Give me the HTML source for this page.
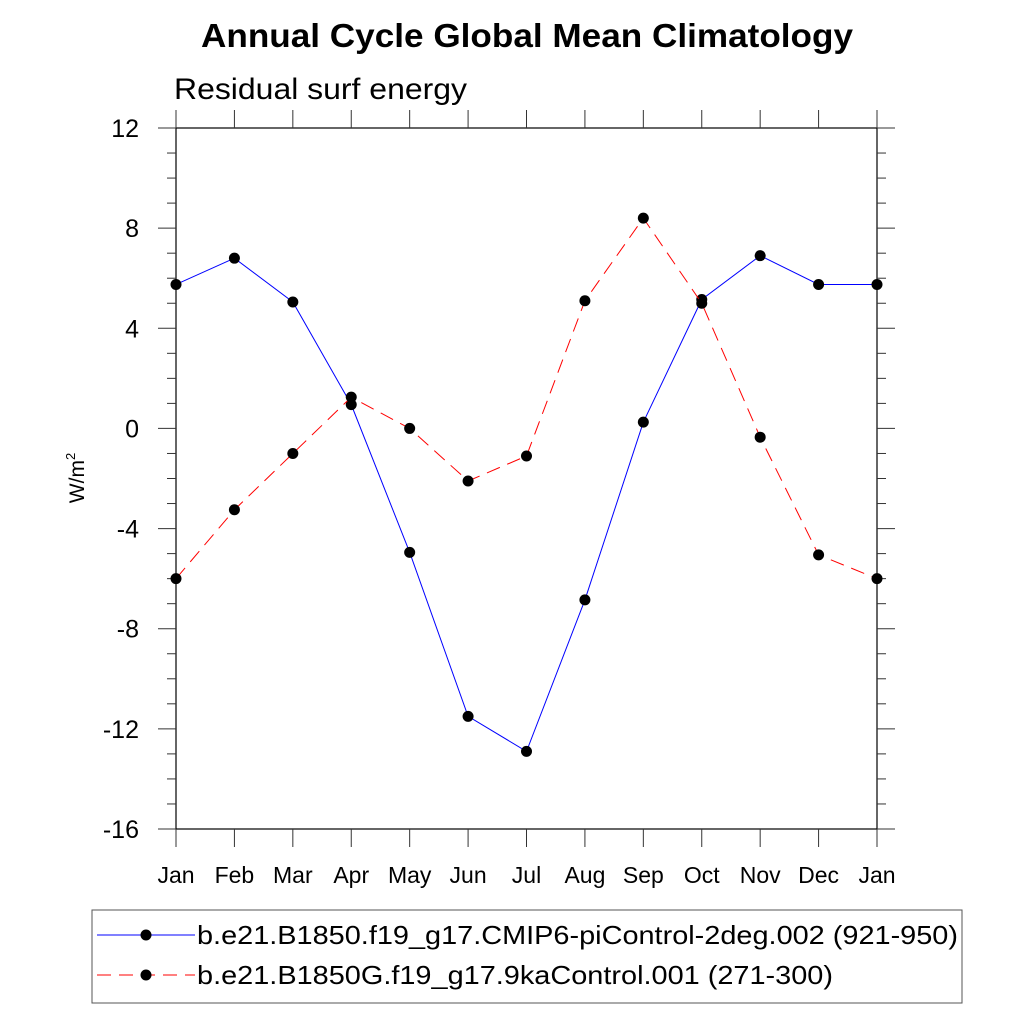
<!DOCTYPE html>
<html><head><meta charset="utf-8"><style>
body{margin:0;background:#fff}
svg text{font-family:"Liberation Sans",sans-serif}
</style></head><body>
<svg id="chart" width="1024" height="1024" xmlns="http://www.w3.org/2000/svg">
<text x="201" y="47" font-size="33" font-weight="bold" textLength="652" lengthAdjust="spacingAndGlyphs">Annual Cycle Global Mean Climatology</text>
<text x="174" y="99" font-size="30" textLength="293" lengthAdjust="spacingAndGlyphs">Residual surf energy</text>
<text transform="translate(84,478) rotate(-90)" text-anchor="middle" font-size="21">W/m<tspan dy="-9" font-size="13">2</tspan></text>
<g id="axes"></g>
<g id="series"></g>
<g>
<rect x="92" y="910" width="870" height="93" fill="none" stroke="#555" stroke-width="1"/>
<line x1="97" y1="935" x2="195" y2="935" stroke="#0000ff" stroke-width="1"/>
<circle cx="146" cy="935" r="5.5" fill="#000"/>
<text x="197" y="944" font-size="26" textLength="761" lengthAdjust="spacingAndGlyphs">b.e21.B1850.f19_g17.CMIP6-piControl-2deg.002 (921-950)</text>
<line x1="97" y1="975" x2="195" y2="975" stroke="#ff0000" stroke-width="1" stroke-dasharray="14,8"/>
<circle cx="146" cy="975" r="5.5" fill="#000"/>
<text x="197" y="984" font-size="26" textLength="636" lengthAdjust="spacingAndGlyphs">b.e21.B1850G.f19_g17.9kaControl.001 (271-300)</text>
</g>
</svg>
<script>
const months=["Jan","Feb","Mar","Apr","May","Jun","Jul","Aug","Sep","Oct","Nov","Dec","Jan"];
const controlValues=[5.75,6.8,5.05,0.95,-4.95,-11.5,-12.9,-6.85,0.25,5.15,6.9,5.75,5.75];
const kaValues=[-6.0,-3.25,-1.0,1.25,0.0,-2.1,-1.1,5.1,8.4,5.0,-0.35,-5.05,-6.0];
const yTicks=[12,8,4,0,-4,-8,-12,-16];
const L=176,R=877,T=128,B=829,yMin=-16,yMax=12;
const xs=i=>L+(R-L)*i/(months.length-1);
const ys=v=>B-(v-yMin)/(yMax-yMin)*(B-T);
const NS="http://www.w3.org/2000/svg";
function mk(tag,attrs,parent){const e=document.createElementNS(NS,tag);for(const k in attrs)e.setAttribute(k,attrs[k]);parent.appendChild(e);return e;}
const ax=document.getElementById('axes');
let fr=mk('rect',{x:L,y:T,width:R-L,height:B-T,fill:'none',stroke:'#000','stroke-width':1.2},ax);


for(let v=yMin;v<=yMax;v++){const major=v%4===0;const len=major?18:9;const y=ys(v);
 let t1=mk('line',{x1:L-len,y1:y,x2:L,y2:y,stroke:'#333','stroke-width':1},ax);
 
 
 let t2=mk('line',{x1:R,y1:y,x2:R+len,y2:y,stroke:'#333','stroke-width':1},ax);
 
 }
yTicks.forEach(v=>{let t=mk('text',{x:139,y:ys(v)+9,'text-anchor':'end','font-size':25},ax);t.textContent=v;
 
 });
months.forEach((m,i)=>{const x=xs(i);
 let a=mk('line',{x1:x,y1:T-18,x2:x,y2:T,stroke:'#333','stroke-width':1},ax);
 
 
 let b=mk('line',{x1:x,y1:B,x2:x,y2:B+18,stroke:'#333','stroke-width':1},ax);
 
 
 let t=mk('text',{x:x,y:883,'text-anchor':'middle','font-size':23},ax);t.textContent=m;
 
 });
const sg=document.getElementById('series');
function series(vals,color,dash,name){
 let p=mk('polyline',{points:vals.map((v,i)=>xs(i)+','+ys(v)).join(' '),fill:'none',stroke:color,'stroke-width':1,'stroke-dasharray':dash},sg);
 
 
 vals.forEach((v,i)=>{let c=mk('circle',{cx:xs(i),cy:ys(v),r:5.5,fill:'#000'},sg);
  
  });}
series(controlValues,'#0000ff','none','control');
series(kaValues,'#ff0000','14,8','ka9');
</script>
</body></html>
